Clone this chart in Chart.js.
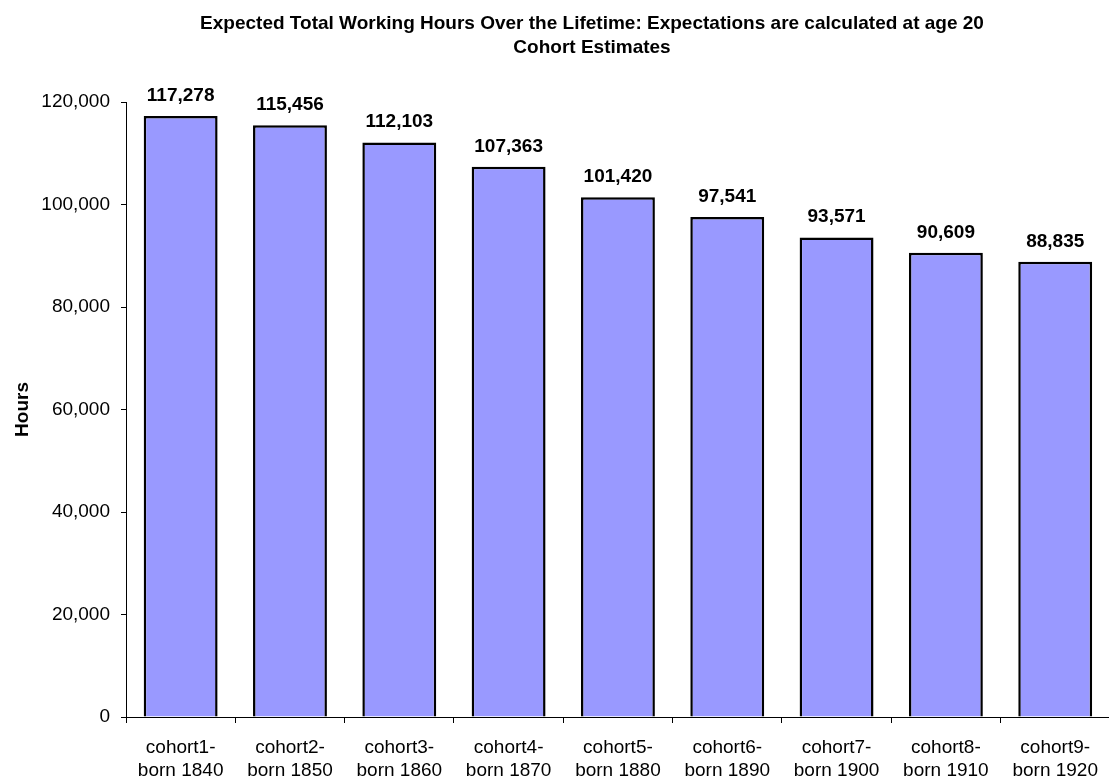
<!DOCTYPE html>
<html>
<head>
<meta charset="utf-8">
<title>Expected Total Working Hours</title>
<script src="https://cdn.jsdelivr.net/npm/chart.js@4.4.1/dist/chart.umd.min.js"></script>
<style>
    html, body { margin: 0; padding: 0; background: #fff; overflow: hidden; }
    #hoursChart { display: block; width: 1111px; height: 780px; }
</style>
</head>
<body>
<canvas id="hoursChart" width="1111" height="780"></canvas>
<script>
// データ
const titleLines = [
    'Expected Total Working Hours Over the Lifetime: Expectations are calculated at age 20',
    'Cohort Estimates'
];
const cohortLabels = [
    ['cohort1-', 'born 1840'],
    ['cohort2-', 'born 1850'],
    ['cohort3-', 'born 1860'],
    ['cohort4-', 'born 1870'],
    ['cohort5-', 'born 1880'],
    ['cohort6-', 'born 1890'],
    ['cohort7-', 'born 1900'],
    ['cohort8-', 'born 1910'],
    ['cohort9-', 'born 1920']
];
const hoursValues = [117278, 115456, 112103, 107363, 101420, 97541, 93571, 90609, 88835];
const yMin = 0;
const yMax = 120000;
const yStep = 20000;

const FONT = "'Liberation Sans', Arial, Helvetica, sans-serif";
Chart.defaults.font.family = FONT;
Chart.defaults.color = '#000';

// タイトル（プロットより少し左寄りに中央揃え）
const titlePlugin = {
    id: 'twoLineTitle',
    afterDraw(chart) {
        const ctx = chart.ctx;
        ctx.save();
        ctx.font = 'bold 19px ' + FONT;
        ctx.fillStyle = '#000';
        ctx.textAlign = 'center';
        ctx.textBaseline = 'alphabetic';
        titleLines.forEach((line, i) => {
            ctx.fillText(line, 592, 29 + i * 24);
        });
        ctx.restore();
    }
};

// 棒の上の数値ラベル
const valueLabelPlugin = {
    id: 'valueLabels',
    afterDatasetsDraw(chart) {
        const ctx = chart.ctx;
        const meta = chart.getDatasetMeta(0);
        ctx.save();
        ctx.font = 'bold 19px ' + FONT;
        ctx.fillStyle = '#000';
        ctx.textAlign = 'center';
        ctx.textBaseline = 'alphabetic';
        meta.data.forEach((bar, i) => {
            ctx.fillText(hoursValues[i].toLocaleString('en-US'), bar.x, bar.y - 15);
        });
        ctx.restore();
    }
};

const ctx = document.getElementById('hoursChart').getContext('2d');
new Chart(ctx, {
    type: 'bar',
    data: {
        labels: cohortLabels,
        datasets: [{
            data: hoursValues,
            backgroundColor: '#9999ff',
            borderColor: '#000',
            borderWidth: 2.5,
            borderSkipped: 'bottom',
            barPercentage: 0.676,
            categoryPercentage: 1.0
        }]
    },
    options: {
        responsive: false,
        animation: false,
        layout: { padding: { top: 102, right: 0, bottom: 0, left: 0 } },
        plugins: {
            legend: { display: false },
            tooltip: { enabled: false }
        },
        scales: {
            x: {
                grid: {
                    drawOnChartArea: false,
                    drawTicks: true,
                    tickLength: 6,
                    tickColor: '#000',
                    offset: true
                },
                border: { color: '#000', width: 1 },
                ticks: {
                    color: '#000',
                    padding: 13,
                    maxRotation: 0,
                    autoSkip: false,
                    font: { size: 19, lineHeight: '23px' }
                },
                afterFit(scale) { scale.height = 63; }
            },
            y: {
                min: yMin,
                max: yMax,
                grid: {
                    drawOnChartArea: false,
                    drawTicks: true,
                    tickLength: 5,
                    tickColor: '#000'
                },
                border: { color: '#000', width: 1 },
                ticks: {
                    stepSize: yStep,
                    color: '#000',
                    padding: 11,
                    font: { size: 19 }
                },
                title: {
                    display: true,
                    text: 'Hours',
                    color: '#000',
                    font: { size: 19, weight: 'bold' },
                    padding: { top: 11, bottom: 0 }
                },
                afterFit(scale) { scale.width = 126; }
            }
        }
    },
    plugins: [titlePlugin, valueLabelPlugin]
});
</script>
</body>
</html>
